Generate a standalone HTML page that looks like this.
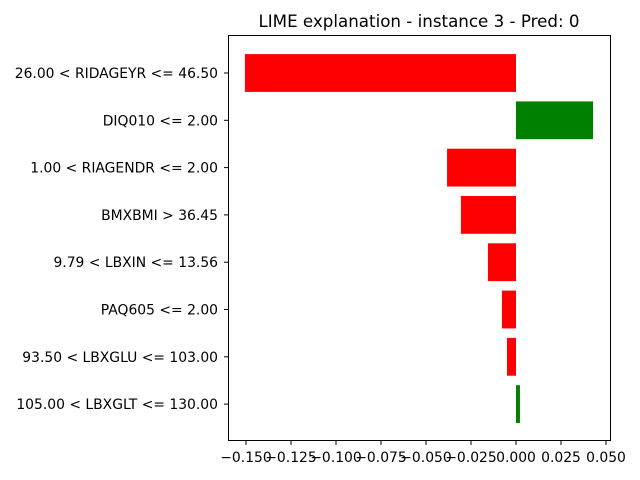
<!DOCTYPE html>
<html><head><meta charset="utf-8"><style>
body{margin:0;background:#fff;}
svg{display:block;font-family:"DejaVu Sans","Liberation Sans",sans-serif;}
</style></head><body>
<svg id="chart" width="640" height="480">
<text x="419" y="27" font-size="16.7" text-anchor="middle">LIME explanation - instance 3 - Pred: 0</text>
<g id="bars"></g>
<g id="yticks"></g>
<g id="xticks"></g>
<rect x="228.5" y="35.5" width="382" height="405" fill="none" stroke="#000" stroke-width="1"/>
</svg>
<script>
const features=["26.00 < RIDAGEYR <= 46.50","DIQ010 <= 2.00","1.00 < RIAGENDR <= 2.00","BMXBMI > 36.45","9.79 < LBXIN <= 13.56","PAQ605 <= 2.00","93.50 < LBXGLU <= 103.00","105.00 < LBXGLT <= 130.00"];
const weights=[-0.1506,0.0428,-0.0383,-0.0306,-0.0156,-0.0078,-0.005,0.0022];
const xTicks=[-0.150,-0.125,-0.100,-0.075,-0.050,-0.025,0.000,0.025,0.050];
const xTickLabels=["\u22120.150","\u22120.125","\u22120.100","\u22120.075","\u22120.050","\u22120.025","0.000","0.025","0.050"];
const NS="http://www.w3.org/2000/svg";
function xs(v){return 516+v*1800;}
function ys(i){return 73+i*47.3;}
const bh=37.8;
const gb=document.getElementById('bars'),gy=document.getElementById('yticks'),gx=document.getElementById('xticks');
function mk(tag,attrs,parent){const e=document.createElementNS(NS,tag);for(const k in attrs)e.setAttribute(k,attrs[k]);parent.appendChild(e);return e;}
features.forEach((f,i)=>{
  const w=weights[i];
  const x0=Math.min(xs(0),xs(w)),x1=Math.max(xs(0),xs(w));
  const r=mk('rect',{x:x0,y:ys(i)-bh/2,width:x1-x0,height:bh,fill:w<0?'#ff0000':'#008000'},gb);
  
  
  mk('line',{x1:224,x2:228,y1:ys(i),y2:ys(i),stroke:'#000'},gy);
  const t=mk('text',{x:218,y:ys(i)+5,'font-size':13.9,'text-anchor':'end'},gy);
  t.textContent=f;
  
  
});
xTicks.forEach((v,i)=>{
  const x=xs(v);
  mk('line',{x1:x,x2:x,y1:440,y2:445,stroke:'#000'},gx);
  const t=mk('text',{x:x,y:462,'font-size':13.9,'text-anchor':'middle'},gx);
  t.textContent=xTickLabels[i];
  
  
});
</script>
</body></html>
